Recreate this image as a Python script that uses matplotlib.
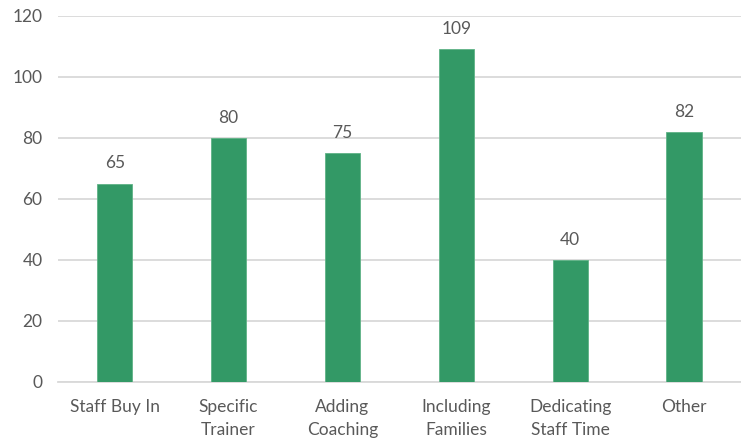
import numpy as np
import matplotlib.pyplot as plt

categories = ['Staff Buy In', 'Specific\nTrainer', 'Adding\nCoaching', 'Including\nFamilies',
              'Dedicating\nStaff Time', 'Other']
values = [65, 80, 75, 109, 40, 82]

plt.rcParams['font.family'] = ['Lato', 'DejaVu Sans']
txt = '#595959'

fig = plt.figure(figsize=(7.41, 4.41), dpi=100)
ax = fig.add_axes([0.078, 0.134, 0.922, 0.83])

x = np.arange(len(categories))
bars = ax.bar(x, values, width=0.31, color='#339966', edgecolor='#5fb386', linewidth=0.6, zorder=3)
for xi, v in zip(x, values):
    ax.text(xi, v + 4, str(v), ha='center', va='bottom', fontsize=12.5, color=txt)

ax.set_xlim(-0.5, 5.5)
ax.set_ylim(0, 120)
ax.set_yticks(range(0, 121, 20))
ax.set_xticks(x)
ax.set_xticklabels(categories, fontsize=12.5, color=txt, va='top', linespacing=1.55)
ax.tick_params(axis='y', labelsize=12.5, labelcolor=txt, length=0, pad=11)
ax.tick_params(axis='x', length=0, pad=12)
ax.grid(axis='y', color='#d9d9d9', linewidth=1.3, zorder=0)
for s in ['top', 'right', 'left']:
    ax.spines[s].set_visible(False)
ax.spines['bottom'].set_color('#d9d9d9')
ax.spines['bottom'].set_linewidth(1.3)

fig.savefig('out.png', dpi=100)
